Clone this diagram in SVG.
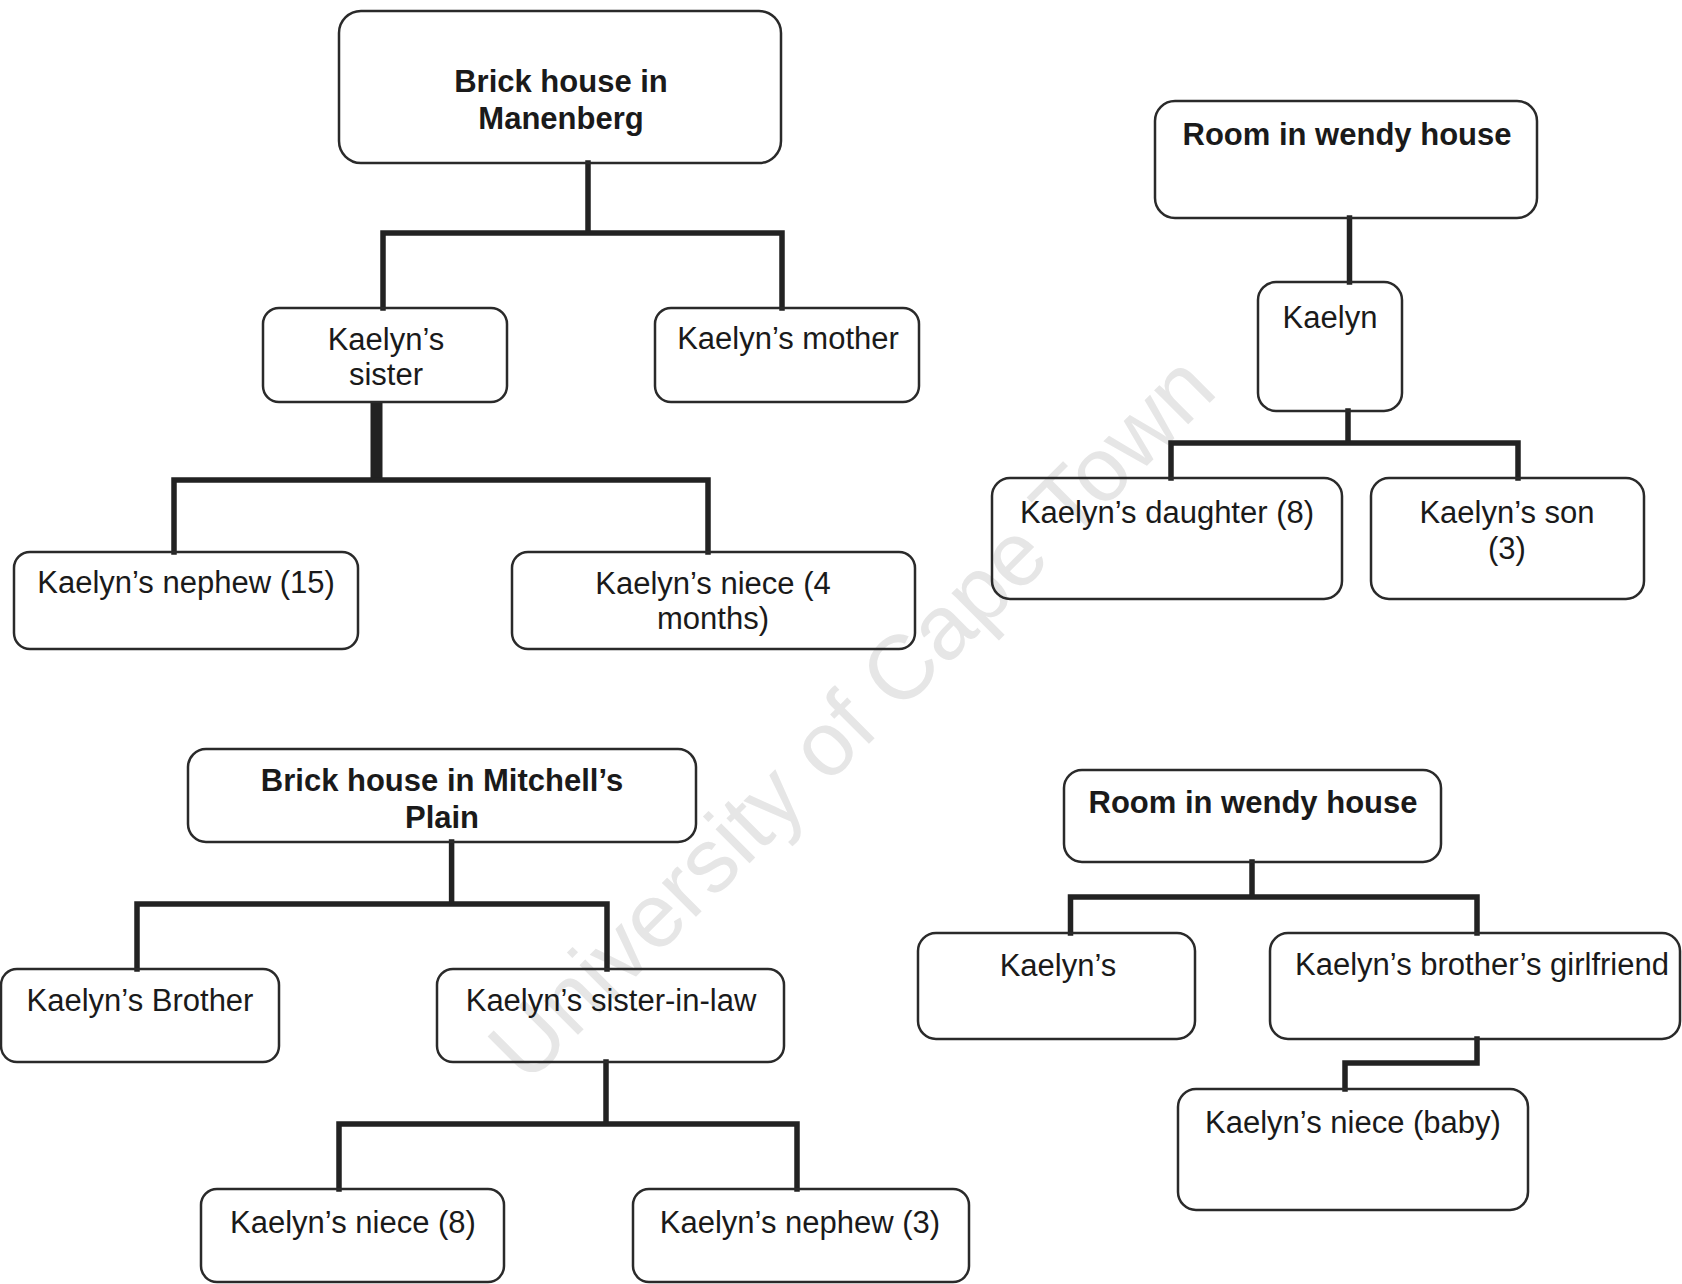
<svg xmlns="http://www.w3.org/2000/svg" width="1682" height="1284" viewBox="0 0 1682 1284">
<style>
.box{fill:none;stroke:#2a2a2a;stroke-width:2.5}
.t{font-family:"Liberation Sans",Arial,sans-serif;font-size:31px;fill:#1a1a1a;text-anchor:middle}
.b{font-weight:bold}
.c{fill:none;stroke:#222;stroke-width:5.5;stroke-linecap:square;stroke-linejoin:miter}
.wm{font-family:"Liberation Sans",Arial,sans-serif;font-size:91px;fill:#e6e6e6;text-anchor:middle}
</style>
<rect width="1682" height="1284" fill="#fff"/>
<text class="wm" transform="translate(850,716) rotate(-45)" y="33">University of  Cape Town</text>
<g id="connectors">
<path class="c" d="M588 163V233M383 308V233H782V308"/>
<path class="c" d="M376.5 402V480" style="stroke-width:12;stroke-linecap:butt"/>
<path class="c" d="M174 552V480H708V552"/>
<path class="c" d="M1349.5 218V282"/>
<path class="c" d="M1348 411V443M1171 478V443H1518V478"/>
<path class="c" d="M451.6 842V904M137 969V904H607V969"/>
<path class="c" d="M606 1062V1124M339 1189V1124H797V1189"/>
<path class="c" d="M1252 862V897M1070.5 933V897H1477V933"/>
<path class="c" d="M1477 1039V1063H1345V1089"/>
</g>
<g id="n-manenberg"><rect class="box" x="339" y="11" width="442" height="152" rx="22"/><text class="t b" x="561" y="92">Brick house in</text><text class="t b" x="561" y="129">Manenberg</text></g>
<g id="n-sister"><rect class="box" x="263" y="308" width="244" height="94" rx="16"/><text class="t" x="386" y="350">Kaelyn’s</text><text class="t" x="386" y="385">sister</text></g>
<g id="n-mother"><rect class="box" x="655" y="308" width="264" height="94" rx="16"/><text class="t" x="788" y="349">Kaelyn’s mother</text></g>
<g id="n-nephew15"><rect class="box" x="14" y="552" width="344" height="97" rx="16"/><text class="t" x="186" y="593">Kaelyn’s nephew (15)</text></g>
<g id="n-niece4"><rect class="box" x="512" y="552" width="403" height="97" rx="16"/><text class="t" x="713" y="594">Kaelyn’s niece (4</text><text class="t" x="713" y="629">months)</text></g>
<g id="n-room1"><rect class="box" x="1155" y="101" width="382" height="117" rx="20"/><text class="t b" x="1347" y="145">Room in wendy house</text></g>
<g id="n-kaelyn"><rect class="box" x="1258" y="282" width="144" height="129" rx="18"/><text class="t" x="1330" y="328">Kaelyn</text></g>
<g id="n-daughter"><rect class="box" x="992" y="478" width="350" height="121" rx="18"/><text class="t" x="1167" y="523">Kaelyn’s daughter (8)</text></g>
<g id="n-son"><rect class="box" x="1371" y="478" width="273" height="121" rx="18"/><text class="t" x="1507" y="523">Kaelyn’s son</text><text class="t" x="1507" y="559">(3)</text></g>
<g id="n-mitchell"><rect class="box" x="188" y="749" width="508" height="93" rx="18"/><text class="t b" x="442" y="791">Brick house in Mitchell’s</text><text class="t b" x="442" y="828">Plain</text></g>
<g id="n-brother"><rect class="box" x="1" y="969" width="278" height="93" rx="16"/><text class="t" x="140" y="1011">Kaelyn’s Brother</text></g>
<g id="n-sisterinlaw"><rect class="box" x="437" y="969" width="347" height="93" rx="16"/><text class="t" x="611" y="1011">Kaelyn’s sister-in-law</text></g>
<g id="n-niece8"><rect class="box" x="201" y="1189" width="303" height="93" rx="16"/><text class="t" x="353" y="1233">Kaelyn’s niece (8)</text></g>
<g id="n-nephew3"><rect class="box" x="633" y="1189" width="336" height="93" rx="16"/><text class="t" x="800" y="1233">Kaelyn’s nephew (3)</text></g>
<g id="n-room2"><rect class="box" x="1064" y="770" width="377" height="92" rx="18"/><text class="t b" x="1253" y="813">Room in wendy house</text></g>
<g id="n-kaelyns"><rect class="box" x="918" y="933" width="277" height="106" rx="18"/><text class="t" x="1058" y="976">Kaelyn’s</text></g>
<g id="n-girlfriend"><rect class="box" x="1270" y="933" width="410" height="106" rx="18"/><text class="t" x="1482" y="975">Kaelyn’s brother’s girlfriend</text></g>
<g id="n-niecebaby"><rect class="box" x="1178" y="1089" width="350" height="121" rx="18"/><text class="t" x="1353" y="1133">Kaelyn’s niece (baby)</text></g>
</svg>
